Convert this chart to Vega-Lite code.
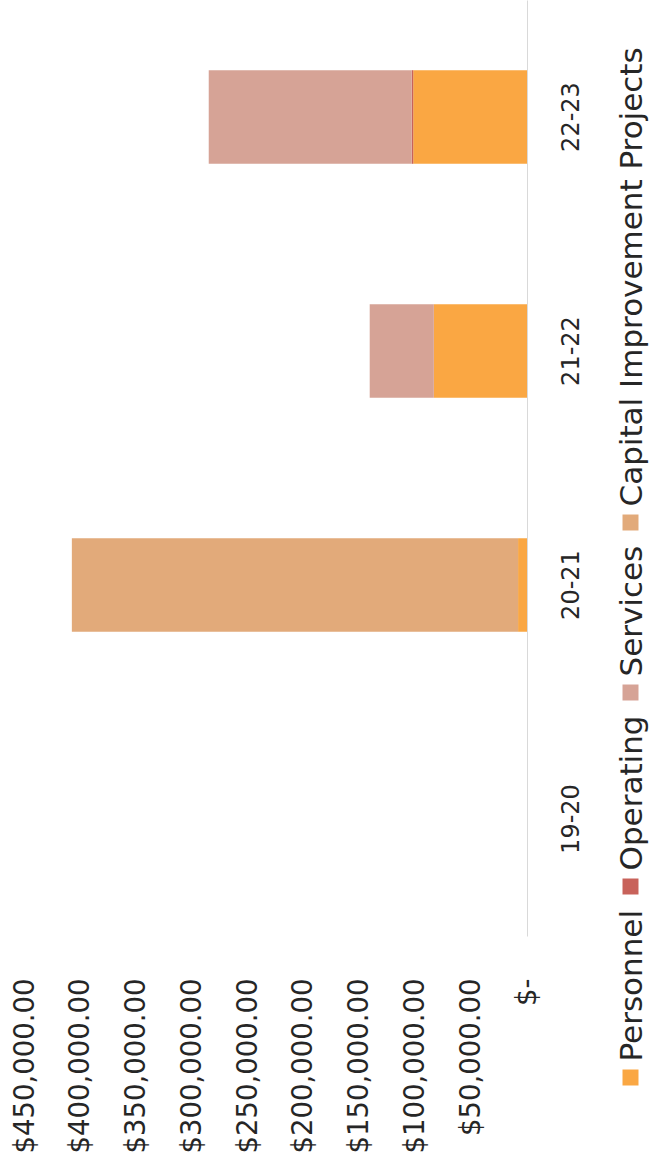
{
  "$schema": "https://vega.github.io/schema/vega-lite/v6.json",
  "width": 502,
  "height": 936,
  "autosize": {"type": "none"},
  "padding": {"left": 25, "top": 0, "right": 122, "bottom": 227},
  "background": "white",
  "config": {"view": {"stroke": null}, "font": "DejaVu Sans"},
  "data": {"values": [
    {"year": "20-21", "category": "Personnel", "amount": 8000},
    {"year": "20-21", "category": "Capital Improvement Projects", "amount": 400000},
    {"year": "21-22", "category": "Personnel", "amount": 83500},
    {"year": "21-22", "category": "Services", "amount": 57500},
    {"year": "22-23", "category": "Personnel", "amount": 102000},
    {"year": "22-23", "category": "Operating", "amount": 1300},
    {"year": "22-23", "category": "Services", "amount": 182000}
  ]},
  "transform": [
    {"calculate": "indexof(['Personnel', 'Operating', 'Services', 'Capital Improvement Projects'], datum.category)", "as": "stackOrder"}
  ],
  "mark": {"type": "bar"},
  "encoding": {
    "y": {
      "field": "year", "type": "nominal",
      "scale": {"domain": ["22-23", "21-22", "20-21", "19-20"], "paddingInner": 0.6, "paddingOuter": 0.3},
      "axis": {"orient": "right", "title": null, "labelAngle": -90, "labelAlign": "center", "labelBaseline": "top", "labelPadding": 32, "labelFontSize": 24, "labelColor": "#262626", "ticks": false, "domainColor": "#d9d9d9", "domainWidth": 1}
    },
    "x": {
      "field": "amount", "type": "quantitative", "stack": "zero",
      "scale": {"domain": [0, 450000], "reverse": true, "nice": false},
      "axis": {"values": [0, 50000, 100000, 150000, 200000, 250000, 300000, 350000, 400000, 450000], "labelExpr": "datum.value === 0 ? '$-\u00a0\u00a0\u00a0\u00a0' : '$' + format(datum.value, ',.2f')", "grid": false, "domain": false, "ticks": false, "labelAngle": -90, "labelAlign": "right", "labelBaseline": "middle", "labelPadding": 42, "labelFontSize": 27.5, "labelColor": "#262626", "title": null}
    },
    "order": {"field": "stackOrder", "type": "quantitative", "sort": "ascending"},
    "color": {
      "field": "category", "type": "nominal",
      "sort": ["Personnel", "Operating", "Services", "Capital Improvement Projects"],
      "scale": {"domain": ["Personnel", "Operating", "Services", "Capital Improvement Projects"], "range": ["#FAA743", "#C8625A", "#D6A396", "#E2AA7A"]},
      "legend": {
        "title": null, "orient": "none", "legendX": 590, "legendY": 507, "direction": "vertical", "padding": 0,
        "symbolType": "square", "symbolSize": 256, "symbolStrokeWidth": 0, "symbolOffset": 0,
        "labelFontSize": 31, "labelColor": "#262626", "labelLimit": 1000, "labelOffset": 0, "rowPadding": 14,
        "values": ["Capital Improvement Projects", "Services", "Operating", "Personnel"],
        "encode": {"labels": {"update": {"angle": {"value": -90}, "dx": {"value": 16}, "dy": {"value": -13}}}}
      }
    }
  }
}
